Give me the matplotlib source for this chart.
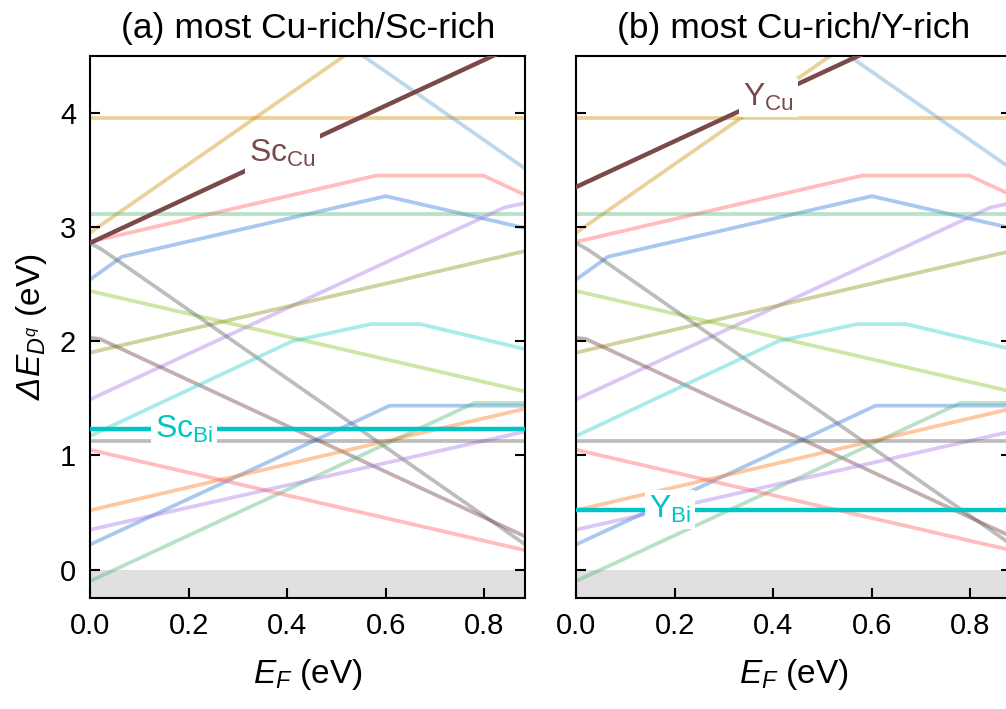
import matplotlib
matplotlib.use("Agg")
import matplotlib.pyplot as plt

plt.rcParams['font.family'] = ['Liberation Sans', 'DejaVu Sans']
plt.rcParams['mathtext.fontset'] = 'custom'
# rm kursiv, damit das Delta im y-Label kursiv erscheint
plt.rcParams['mathtext.rm'] = 'Liberation Sans:italic'
plt.rcParams['mathtext.it'] = 'Liberation Sans:italic'
plt.rcParams['mathtext.bf'] = 'Liberation Sans:bold'

# Bandlücke (Ende der x-Achse)
gap = 0.883

# Hintergrund-Defekte (in beiden Panels gleich): Knickpunkte x / y
bg_x = [
    [0, gap],                          # gold horizontal
    [0, gap],                          # gold diagonal
    [0, gap],                          # hellblau fallend
    [0, 0.58, 0.798, gap],             # rot oben
    [0, 0.065, 0.60, gap],             # blau oben
    [0, gap],                          # gruen horizontal
    [0, 0.84, gap],                    # lila oben
    [0, gap],                          # oliv
    [0, gap],                          # gelbgruen
    [0, 0.025, gap],                   # grau fallend
    [0, 0.02, gap],                    # braungrau fallend
    [0, 0.41, 0.57, 0.67, gap],        # cyan
    [0, 0.608, gap],                   # blau unten
    [0, 0.78, gap],                    # gruen unten
    [0, gap],                          # orange
    [0, gap],                          # lila unten
    [0, gap],                          # rot unten
    [0, gap],                          # grau horizontal
]
bg_y = [
    [3.95, 3.95],
    [2.95, 5.60],
    [6.16, 3.51],
    [2.87, 3.45, 3.45, 3.28],
    [2.54, 2.74, 3.27, 2.99],
    [3.11, 3.11],
    [1.49, 3.17, 3.21],
    [1.90, 2.79],
    [2.44, 1.56],
    [2.86, 2.80, 0.22],
    [2.03, 2.02, 0.29],
    [1.17, 2.00, 2.15, 2.15, 1.93],
    [0.22, 1.436, 1.436],
    [-0.10, 1.46, 1.46],
    [0.52, 1.41],
    [0.35, 1.21],
    [1.05, 0.17],
    [1.124, 1.124],
]
bg_colors = ['#cd8e00', '#cd8e00', '#5c9bcd', '#ff5c5c', '#2a75d9', '#50b475',
             '#a775e6', '#8e8e11', '#82c01e', '#5c5c5c', '#693737', '#2acdcd',
             '#2a75d9', '#50b475', '#ff7511', '#a775e6', '#ff5c5c', '#5c5c5c']

# hervorgehobene Defekte
titles = ['(a) most Cu-rich/Sc-rich', '(b) most Cu-rich/Y-rich']
cu_labels = [r'Sc$_\mathregular{Cu}$', r'Y$_\mathregular{Cu}$']
cu_x = [0, gap]
cu_y = [[2.86, 4.63], [3.35, 5.12]]
bi_labels = [r'Sc$_\mathregular{Bi}$', r'Y$_\mathregular{Bi}$']
bi_x = [0, gap]
bi_y = [[1.23, 1.23], [0.525, 0.525]]
label_x = [0.39, 0.19]  # Position der Beschriftungen (Cu, Bi)

xticks = [0.0, 0.2, 0.4, 0.6, 0.8]
yticks = [0, 1, 2, 3, 4]

brown = '#7b4a48'
cyan = '#00c5c5'

fig = plt.figure(figsize=(10.06, 7.09), dpi=100)
positions = [[0.0895, 0.1562, 0.4327, 0.7653], [0.5726, 0.1562, 0.4327, 0.7653]]

for i in range(2):
    ax = fig.add_axes(positions[i])
    ax.axhspan(-1, 0, color='#e0e0e0', lw=0, zorder=0)
    for xs, ys, c in zip(bg_x, bg_y, bg_colors):
        ax.plot(xs, ys, color=c, alpha=0.4, lw=2.7, zorder=1, solid_capstyle='butt')
    ax.plot(cu_x, cu_y[i], color=brown, lw=3.2, zorder=3)
    ax.plot(bi_x, bi_y[i], color=cyan, lw=3.2, zorder=3)

    # Beschriftungen direkt auf den Linien
    y_cu = cu_y[i][0] + (cu_y[i][1] - cu_y[i][0]) * label_x[0] / gap
    ax.text(label_x[0], y_cu, cu_labels[i], color=brown, fontsize=23,
            ha='center', va='center', zorder=5,
            bbox=dict(facecolor='white', edgecolor='none', pad=3))
    ax.text(label_x[1], bi_y[i][0], bi_labels[i], color=cyan, fontsize=23,
            ha='center', va='center', zorder=5,
            bbox=dict(facecolor='white', edgecolor='none', pad=3))

    ax.set_xlim(0, gap)
    ax.set_ylim(-0.25, 4.5)
    ax.set_xticks(xticks)
    ax.set_xticklabels(['%.1f' % t for t in xticks])
    ax.set_yticks(yticks)
    ax.tick_params(direction='in', length=7, width=1.5, labelsize=21, pad=10,
                   right=True, top=False)
    for s in ax.spines.values():
        s.set_linewidth(1.5)
    if i == 0:
        ax.set_ylabel(r'$\Delta E_{D^q}$ (eV)', fontsize=24, labelpad=8)
    else:
        ax.set_yticklabels([])
    ax.set_xlabel(r'$E_F$ (eV)', fontsize=24, labelpad=12)
    ax.set_title(titles[i], fontsize=25.5, pad=13)

fig.savefig('out.png', dpi=100)
